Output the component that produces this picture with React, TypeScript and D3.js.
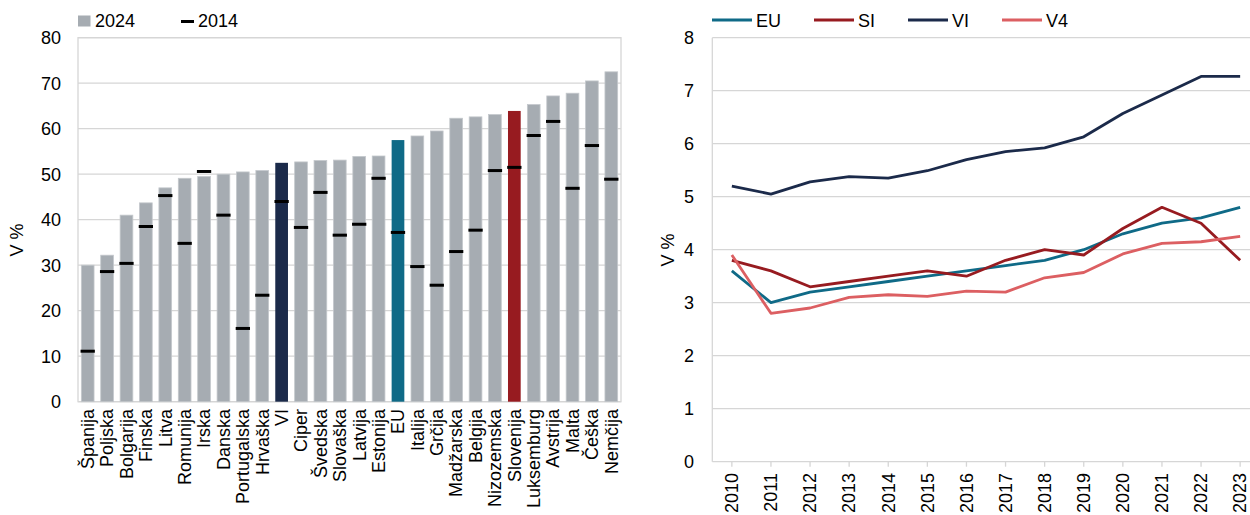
import React from "react";
import * as d3 from "d3";

const countries = ["Španija","Poljska","Bolgarija","Finska","Litva","Romunija","Irska","Danska","Portugalska","Hrvaška","VI","Ciper","Švedska","Slovaška","Latvija","Estonija","EU","Italija","Grčija","Madžarska","Belgija","Nizozemska","Slovenija","Luksemburg","Avstrija","Malta","Češka","Nemčija"];
const values2024 = [30.0,32.2,41.0,43.7,47.0,49.1,49.5,50.0,50.5,50.8,52.5,52.7,53.0,53.1,53.9,54.0,57.5,58.4,59.5,62.3,62.6,63.1,63.9,65.3,67.2,67.8,70.5,72.5];
const values2014 = [11.1,28.6,30.4,38.5,45.3,34.8,50.6,41.0,16.1,23.4,44.0,38.3,46.0,36.6,39.0,49.1,37.2,29.7,25.6,33.0,37.7,50.8,51.5,58.5,61.6,46.9,56.3,48.9];
const leftTicks = [0,10,20,30,40,50,60,70,80];

const years = ["2010","2011","2012","2013","2014","2015","2016","2017","2018","2019","2020","2021","2022","2023"];
const seriesEU = [3.6,3.0,3.2,3.3,3.4,3.5,3.6,3.7,3.8,4.0,4.3,4.5,4.6,4.8];
const seriesSI = [3.8,3.6,3.3,3.4,3.5,3.6,3.5,3.8,4.0,3.9,4.4,4.8,4.5,3.8];
const seriesVI = [5.2,5.05,5.28,5.38,5.35,5.49,5.7,5.85,5.92,6.13,6.57,6.92,7.27,7.27];
const seriesV4 = [3.9,2.8,2.9,3.1,3.15,3.12,3.22,3.2,3.47,3.57,3.92,4.12,4.15,4.25];
const rightTicks = [0,1,2,3,4,5,6,7,8];

const FONT = "'Liberation Sans', Arial, sans-serif";
const FS = 18;
const GRID = "#d6d6d6";
const BAR = "#a6acb2";
const C_VI = "#1b2a4a";
const C_EU = "#0f6a87";
const C_SI = "#971b20";
const C_V4 = "#dc5f62";

export default function App() {
  const L = { left: 78, right: 621, top: 37.7, bottom: 401.7 };
  const x = d3.scaleBand<string>().domain(countries).range([L.left, L.right]).paddingInner(0.345).paddingOuter(0.1725);
  const y = d3.scaleLinear().domain([0, 80]).range([L.bottom, L.top]);
  const barColor = (c: string) => (c === "VI" ? C_VI : c === "EU" ? C_EU : c === "Slovenija" ? C_SI : BAR);

  const R = { left: 712.3, right: 1259.7, top: 37.7, bottom: 461.7 };
  const xr = d3.scalePoint<string>().domain(years).range([R.left, R.right]).padding(0.5);
  const yr = d3.scaleLinear().domain([0, 8]).range([R.bottom, R.top]);
  const line = d3.line<number>().x((_, i) => xr(years[i]) as number).y((d) => yr(d));
  const series = [
    { name: "EU", data: seriesEU, color: C_EU },
    { name: "SI", data: seriesSI, color: C_SI },
    { name: "VI", data: seriesVI, color: C_VI },
    { name: "V4", data: seriesV4, color: C_V4 },
  ];
  const legendX = [712, 814, 908, 1002];
  const bw = x.bandwidth();

  return (
    <svg width={1250} height={515} style={{ position: "absolute", left: 0, top: 0, background: "#fff" }} fontFamily={FONT} fontSize={FS}>
      <rect x={0} y={0} width={1250} height={515} fill="#fff" />
      {/* LEFT CHART */}
      <rect x={78} y={15.5} width={12.5} height={11} fill={BAR} />
      <text x={95} y={27} fill="#000">2024</text>
      <line x1={181} x2={194} y1={21.5} y2={21.5} stroke="#000" strokeWidth={3} />
      <text x={198} y={27} fill="#000">2014</text>

      {leftTicks.map((t) => (
        <g key={"lt" + t}>
          <line x1={L.left} x2={L.right} y1={y(t)} y2={y(t)} stroke={GRID} strokeWidth={1.3} />
          <text x={61} y={y(t)} dy="0.35em" textAnchor="end" fill="#000">{t}</text>
        </g>
      ))}
      <rect x={L.left} y={L.top} width={L.right - L.left} height={L.bottom - L.top} fill="none" stroke={GRID} strokeWidth={1.3} />
      {countries.map((c, i) => (
        <g key={c}>
          <rect x={x(c)} y={y(values2024[i])} width={bw} height={y(0) - y(values2024[i])} fill={barColor(c)} stroke={barColor(c) === BAR ? "#c4c8cc" : "none"} strokeWidth={0.8} />
          <line x1={(x(c) as number) - 0.8} x2={(x(c) as number) + bw + 0.8} y1={y(values2014[i])} y2={y(values2014[i])} stroke="#000" strokeWidth={3} />
          <text transform={`translate(${(x(c) as number) + bw / 2},409) rotate(-90)`} dy="0.35em" textAnchor="end" fill="#000">{c}</text>
        </g>
      ))}
      <text transform="translate(17,240) rotate(-90)" dy="0.35em" textAnchor="middle" fill="#000">V %</text>

      {/* RIGHT CHART */}
      {series.map((s, i) => (
        <g key={"lg" + s.name}>
          <line x1={legendX[i]} x2={legendX[i] + 40} y1={20} y2={20} stroke={s.color} strokeWidth={3} />
          <text x={legendX[i] + 44} y={26.5} fill="#000">{s.name}</text>
        </g>
      ))}
      {rightTicks.map((t) => (
        <g key={"rt" + t}>
          <line x1={R.left} x2={R.right} y1={yr(t)} y2={yr(t)} stroke={GRID} strokeWidth={1.3} />
          <text x={694} y={yr(t)} dy="0.35em" textAnchor="end" fill="#000">{t}</text>
        </g>
      ))}
      <line x1={R.left} x2={R.left} y1={R.top} y2={R.bottom} stroke={GRID} strokeWidth={1.3} />
      {years.map((yy) => (
        <g key={yy}>
          <line x1={xr(yy)} x2={xr(yy)} y1={R.bottom} y2={R.bottom + 5} stroke={GRID} strokeWidth={1.3} />
          <text transform={`translate(${xr(yy)},473) rotate(-90)`} dy="0.35em" textAnchor="end" fill="#000">{yy}</text>
        </g>
      ))}
      {series.map((s) => (
        <path key={s.name} d={line(s.data) as string} fill="none" stroke={s.color} strokeWidth={2.8} strokeLinejoin="round" />
      ))}
      <text transform="translate(668,250) rotate(-90)" dy="0.35em" textAnchor="middle" fill="#000">V %</text>
    </svg>
  );
}
